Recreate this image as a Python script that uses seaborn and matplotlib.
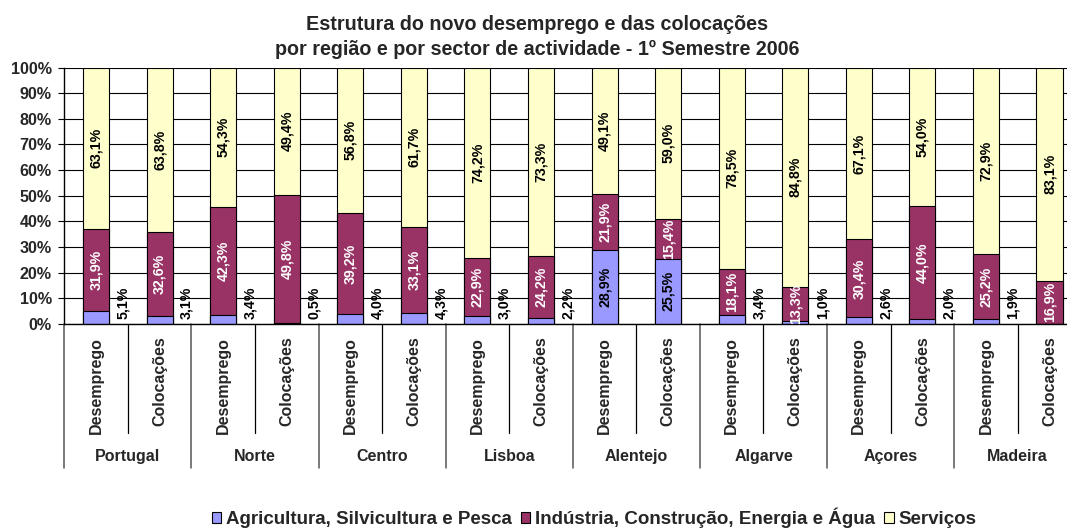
import numpy as np
import pandas as pd
import matplotlib
matplotlib.use("Agg")
import matplotlib.pyplot as plt
import matplotlib.transforms as mtransforms
from matplotlib.patches import Patch
from matplotlib.lines import Line2D
import seaborn as sns

# ---- data ----
regions = ["Portugal", "Norte", "Centro", "Lisboa", "Alentejo", "Algarve", "Açores", "Madeira"]
kinds = ["Desemprego", "Colocações"]
agricultura = [5.1, 3.1, 3.4, 0.5, 4.0, 4.3, 3.0, 2.2, 28.9, 25.5, 3.4, 1.0, 2.6, 2.0, 1.9, 0.0]
industria = [31.9, 32.6, 42.3, 49.8, 39.2, 33.1, 22.9, 24.2, 21.9, 15.4, 18.1, 13.3, 30.4, 44.0, 25.2, 16.9]
servicos = [63.1, 63.8, 54.3, 49.4, 56.8, 61.7, 74.2, 73.3, 49.1, 59.0, 78.5, 84.8, 67.1, 54.0, 72.9, 83.1]
series_names = ["Agricultura, Silvicultura e Pesca", "Indústria, Construção, Energia e Água", "Serviços"]
colors = ["#9999FF", "#993366", "#FFFFCC"]
yticks = list(range(0, 101, 10))
title1 = "Estrutura do novo desemprego e das colocações"
title2 = "por região e por sector de actividade - 1º Semestre 2006"

# ---- setup ----
sns.set_style("white")
plt.rcParams["font.family"] = ["Liberation Sans", "DejaVu Sans"]
plt.rcParams["font.weight"] = "bold"

bar_ids = [f"{r}|{k}" for r in regions for k in kinds]
a = np.array(agricultura)
i_ = np.array(industria)
s = np.array(servicos)
tot = a + i_ + s
cum_a = a / tot * 100
cum_i = (a + i_) / tot * 100
cum_s = (a + i_ + s) / tot * 100
df = pd.DataFrame({"bar": bar_ids, "cum_a": cum_a, "cum_i": cum_i, "cum_s": cum_s})

W, H = 1067, 529
fig = plt.figure(figsize=(W / 100, H / 100), dpi=100)
ax = fig.add_axes([64.3 / W, (H - 324) / H, 1017 / W, 256.5 / H])

bw = 0.41
for col, c in zip(["cum_s", "cum_i", "cum_a"], colors[::-1]):
    sns.barplot(data=df, x="bar", y=col, order=bar_ids, color=c, saturation=1,
                width=bw, edgecolor="black", linewidth=0.8, errorbar=None, ax=ax)

ax.set_xlim(-0.5, len(bar_ids) - 0.5)
ax.set_ylim(0, 100)
ax.set_yticks(yticks)
ax.set_yticklabels([f"{t}%" for t in yticks], fontsize=11.6, fontweight="bold")
ax.set_xticks([])
ax.set_xlabel("")
ax.set_ylabel("")
ax.yaxis.grid(True, color="black", linewidth=0.8)
ax.set_axisbelow(True)
for sp in ["top", "right"]:
    ax.spines[sp].set_visible(False)
ax.spines["left"].set_color("black")
ax.spines["bottom"].set_color("black")
ax.spines["left"].set_linewidth(1.0)
ax.spines["bottom"].set_linewidth(1.0)
ax.tick_params(axis="y", left=True, length=4, width=0.8, color="black", pad=5)

def fmt(v):
    return f"{v:.1f}%".replace(".", ",")

lab_fs = 10.2
for k in range(len(bar_ids)):
    # services
    ax.text(k, (cum_i[k] + cum_s[k]) / 2, fmt(s[k]), rotation=90, ha="center", va="center",
            fontsize=lab_fs, fontweight="bold", color="black")
    # industry
    ax.text(k, (cum_a[k] + cum_i[k]) / 2, fmt(i_[k]), rotation=90, ha="center", va="center",
            fontsize=lab_fs, fontweight="bold", color="white")
    # agriculture
    if a[k] > 10:
        ax.text(k, cum_a[k] / 2, fmt(a[k]), rotation=90, ha="center", va="center",
                fontsize=lab_fs, fontweight="bold", color="black")
    elif a[k] > 0:
        ax.text(k + bw / 2 + 0.22, 2.0, fmt(a[k]), rotation=90, ha="center", va="bottom",
                fontsize=lab_fs, fontweight="bold", color="black")

# ---- two-level category axis ----
trans = mtransforms.blended_transform_factory(ax.transData, ax.transAxes)
ph = 256.5  # axes height in px
for k, bid in enumerate(bar_ids):
    kind = bid.split("|")[1]
    ax.text(k, -12.7 / ph, kind, rotation=90, ha="center", va="top", transform=trans,
            fontsize=11.5, fontweight="bold", clip_on=False)
for g, r in enumerate(regions):
    ax.text(2 * g + 0.5, -132.7 / ph, r, ha="center", va="center", transform=trans,
            fontsize=11.5, fontweight="bold", clip_on=False)
    inner = 2 * g + 0.5
    ax.add_line(Line2D([inner, inner], [0, -109 / ph], transform=trans, color="black",
                       linewidth=0.9, clip_on=False))
for g in range(len(regions) + 1):
    xb = 2 * g - 0.5
    ax.add_line(Line2D([xb, xb], [0, -144 / ph], transform=trans, color="#555555",
                       linewidth=1.1, clip_on=False))

# ---- titles ----
fig.text(537 / W, 1 - 25 / H, title1, ha="center", va="center", fontsize=14.2, fontweight="bold")
fig.text(537 / W, 1 - 49.5 / H, title2, ha="center", va="center", fontsize=14.2, fontweight="bold")

# ---- legend ----
handles = [Patch(facecolor=c, edgecolor="black", linewidth=0.8) for c in colors]
fig.legend(handles, series_names, loc="center", bbox_to_anchor=(594 / W, 1 - 518 / H),
           ncol=3, frameon=False, prop={"weight": "bold", "size": 13.5},
           handlelength=0.5, handleheight=0.5, handletextpad=0.25, columnspacing=0.5,
           borderpad=0, borderaxespad=0)

fig.savefig("out.png", dpi=100)
